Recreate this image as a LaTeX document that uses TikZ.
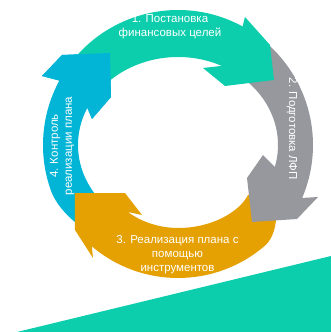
\documentclass[tikz,border=0pt]{standalone}
\usepackage{fontspec}
\setmainfont{Liberation Sans}

\definecolor{stepteal}{RGB}{12,206,172}
\definecolor{stepgray}{RGB}{150,152,157}
\definecolor{steporange}{RGB}{229,160,2}
\definecolor{stepblue}{RGB}{2,181,214}

\begin{document}
\begin{tikzpicture}[x = 1pt, y = 1pt,
	steplabel/.style = {text = white, align = center, inner sep = 0,
		font = \fontsize{11.5}{14}\selectfont}]

	\useasboundingbox (-178, -187) rectangle (153, 145);

	% Ground wedge

	\fill [stepteal] (-161, -187) -- (153, -111) -- (153, -187) -- cycle;

	% Arrow 4 first, its head goes on top again at the end

	\fill [stepblue] (151.5:135) arc [start angle = 151.5, end angle = 200, radius = 135]
		.. controls (-122.8, -57.5) and (-112, -70) .. (-103, -77)
		-- (-97, -84) -- (220:100 and 88)
		arc [start angle = 220, end angle = 155, x radius = 100, y radius = 88]
		-- (-86, 26) -- (-67, 48) -- (-68, 92) -- (-116, 90) -- (-136, 69) -- cycle;

	% Arrow 3

	\fill [steporange] (98, -67) .. controls (99, -80) and (94.8, -93.8) .. (-49:133)
		arc [start angle = -49, end angle = -130.4, radius = 133]
		-- (-85, -113) -- (-103, -85) -- (-103, -48) -- (-53, -48) -- (-36, -70) -- (-50, -67)
		.. controls (-38, -76) and (-20, -83) .. (0, -83)
		.. controls (35, -83) and (62, -66) .. (70, -50)
		-- (84, -45) -- cycle;

	% Arrow 2

	\fill [stepgray] (55:135) arc [start angle = 55, end angle = -23.1, radius = 135]
		-- (140, -52) -- (119, -74) -- (74, -77) -- (69, -33) -- (85, -10) -- (-14.5:100 and 88)
		arc [start angle = -14.5, end angle = 55, x radius = 100, y radius = 88] -- cycle;

	% Arrow 1

	\fill [stepteal] (145:135) arc [start angle = 145, end angle = 61.4, radius = 135]
		-- (67, 128) -- (92, 100) -- (96, 65) -- (47, 59) -- (25, 77) -- (64:100 and 88)
		arc [start angle = 64, end angle = 145, x radius = 100, y radius = 88] -- cycle;

	% Head of arrow 4 over the tail of arrow 1

	\fill [stepblue] (151.5:135) -- (-136, 69) -- (-116, 90) -- (-68, 92) -- (-67, 48)
		-- (-86, 26) -- (155:100 and 88) -- cycle;

	% Labels

	\node [steplabel] (stepone) at (-8, 118.5) {1. Постановка\\финансовых целей};
	\node [steplabel, rotate = -90] (steptwo) at (114, 16) {2. Подготовка ЛФП};
	\node [steplabel] (stepthree) at (-0.5, -109.5) {3. Реализация плана с\\помощью\\инструментов};
	\node [steplabel, rotate = 90] (stepfour) at (-116, -1) {4. Контроль\\реализации плана};

\end{tikzpicture}
\end{document}
